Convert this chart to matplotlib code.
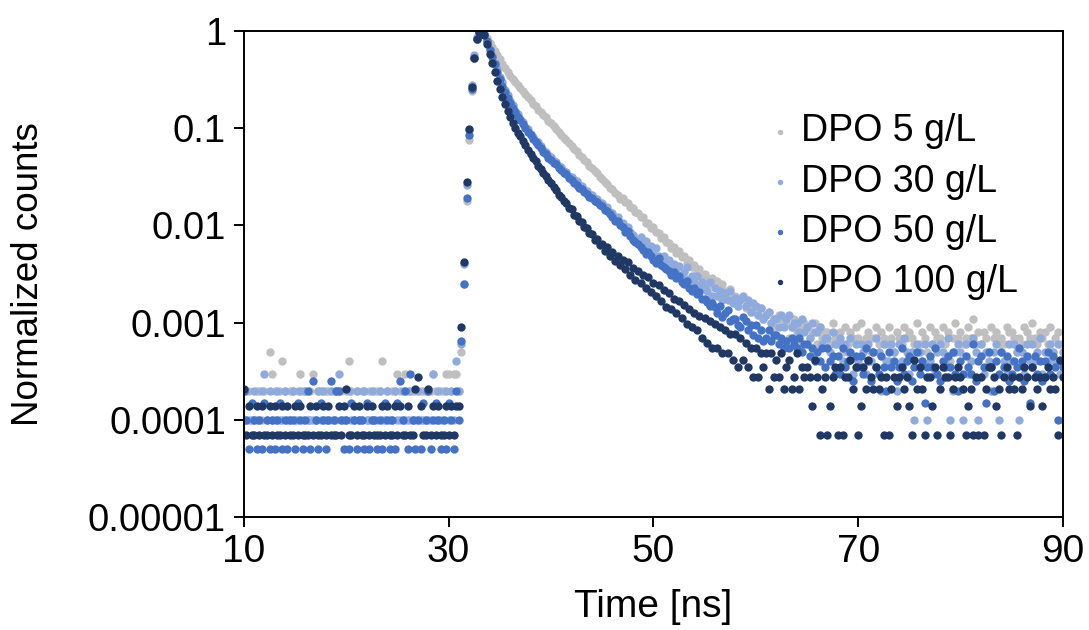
import numpy as np
import matplotlib
matplotlib.use("Agg")
import matplotlib.pyplot as plt
from matplotlib.ticker import FixedLocator, FixedFormatter

plt.rcParams['font.family'] = ['Liberation Sans', 'DejaVu Sans']

# TCSPC channels, 0.25 ns wide, starting at 10 ns
t_start = 10.0
t_step = 0.25

# raw counts per channel (baseline 10-31 ns, rise 31.25-33 ns, decay 33.25-90 ns)
dpo5_counts = [
    2, 1, 2, 1, 1, 2, 2, 1, 2, 1, 5, 3, 2, 1, 2, 4, 2, 1, 2, 2, 1, 2, 3, 2,
    2, 1, 2, 3, 1, 2, 2, 1, 2, 2, 1, 2, 1, 2, 2, 1, 2, 4, 2, 1, 2, 1, 2, 2,
    1, 2, 1, 2, 2, 2, 4, 1, 2, 1, 2, 2, 3, 2, 1, 3, 2, 1, 2, 2, 1, 2, 2, 1,
    2, 2, 3, 2, 1, 2, 2, 3, 3, 2, 3, 3, 2,
    5, 25, 180, 750, 2400, 5200, 8200, 9600,
    10000, 9310, 8420,
    7590, 6880, 6230, 5590, 5120, 4580, 4160, 3790, 3460, 3190, 2990, 2760,
    2590, 2390, 2240, 2070, 1950, 1790, 1690, 1550, 1470, 1360, 1290, 1190,
    1130, 1040, 985, 910, 860, 795, 756, 697, 660, 610, 580, 535,
    509, 468, 447, 410, 392, 360, 345, 316, 303, 278, 266, 243,
    234, 213, 206, 186, 190, 174, 168, 153, 152, 138, 135, 122,
    121, 107, 106, 95, 96, 85, 84, 75, 76, 67, 66, 59,
    60, 52, 54, 47, 48, 41, 44, 37, 39, 33, 36, 29,
    32, 28, 25, 29, 24, 27, 20, 25, 21, 18, 22, 17,
    19, 15, 18, 18, 14, 16, 13, 15, 13, 12, 14, 11,
    12, 13, 10, 11, 9, 12, 11, 10, 10, 7, 9, 11,
    8, 9, 6, 10, 9, 7, 8, 10, 6, 9, 7, 8,
    8, 6, 10, 7, 7, 8, 5, 9, 6, 8, 7, 9,
    7, 10, 6, 7, 8, 5, 7, 9, 6, 8, 7, 6,
    9, 7, 5, 8, 7, 6, 9, 7, 8, 7, 6, 10,
    6, 8, 7, 5, 9, 6, 8, 7, 7, 9, 6, 8,
    4, 7, 10, 7, 8, 6, 7, 9, 7, 11, 6, 8,
    6, 8, 7, 5, 9, 7, 8, 6, 7, 6, 9, 8,
    8, 7, 5, 7, 6, 9, 8, 7, 10, 7, 6, 8,
    7, 8, 6, 9, 5, 7, 8, 6, 1,
]

dpo30_counts = [
    1, 2, 1, 1, 2, 1, 1, 2, 3, 1, 2, 1, 1, 2, 1, 1, 2, 1, 1, 2, 1, 1, 2, 1,
    2, 1, 1, 1, 1, 2, 1, 2, 1, 1, 2, 1, 2, 3, 1, 1, 1, 2, 1, 1, 2, 1, 1, 2,
    1, 1, 2, 1, 1, 2, 1, 1, 2, 1, 1, 2, 1, 1, 2, 1, 1, 2, 1, 1, 2, 1, 1, 2,
    1, 1, 3, 1, 2, 1, 1, 2, 1, 2, 1, 4, 2,
    6, 40, 260, 950, 2800, 5700, 8600, 9800,
    10000, 9280, 7930,
    6580, 5690, 4660, 4010, 3380, 2950, 2480, 2200, 1880, 1720, 1500, 1410,
    1230, 1160, 1020, 970, 870, 820, 740, 712, 648, 602, 575, 530,
    505, 462, 446, 409, 394, 364, 355, 322, 316, 290, 284, 258,
    255, 233, 228, 208, 207, 186, 187, 170, 170, 151, 155, 138,
    133, 120, 121, 107, 105, 93, 96, 85, 79, 73, 70, 76,
    65, 69, 57, 61, 53, 58, 49, 46, 48, 42, 44, 37,
    40, 36, 38, 31, 33, 37, 28, 30, 26, 30, 24, 26,
    23, 21, 26, 19, 23, 19, 21, 17, 20, 17, 21, 16,
    18, 15, 17, 19, 15, 17, 13, 16, 15, 12, 14, 11,
    12, 13, 10, 11, 11, 9, 12, 9, 11, 12, 9, 10,
    10, 8, 11, 8, 9, 7, 10, 8, 8, 9, 6, 7,
    7, 5, 8, 6, 6, 7, 4, 6, 5, 7, 3, 6,
    4, 6, 5, 3, 6, 4, 5, 7, 5, 2, 6, 4,
    4, 6, 5, 2, 6, 4, 7, 5, 3, 5, 1, 6,
    5, 4, 6, 1, 4, 6, 3, 5, 6, 5, 4, 7,
    1, 2, 5, 6, 5, 1, 6, 3, 4, 7, 5, 1,
    6, 3, 5, 4, 2, 5, 6, 1, 5, 4, 3, 6,
    4, 6, 5, 1, 5, 3, 6, 4, 6, 4, 5, 7,
    3, 5, 4, 6, 5, 4, 6, 3, 5,
]

dpo50_counts = [
    4, 2, 1, 3, 2, 1, 2, 1, 3, 2, 1, 2, 1, 2, 3, 1, 2, 1, 2, 2, 1, 3, 2, 1,
    2, 4, 1, 5, 2, 1, 3, 2, 1, 2, 5, 2, 4, 4, 2, 1, 2, 1, 3, 2, 1, 2, 2, 1,
    3, 1, 2, 2, 1, 2, 1, 3, 2, 1, 2, 1, 3, 5, 2, 4, 1, 6, 2, 1, 2, 1, 3, 2,
    4, 1, 2, 3, 2, 1, 2, 1, 3, 2, 1, 4, 2,
    13, 50, 380, 1700, 5000, 10600, 16600, 19400,
    20000, 18420, 15560,
    12840, 10760, 9030, 7580, 6420, 5480, 4720, 4090, 3610, 3210, 2910, 2630,
    2410, 2190, 2010, 1830, 1710, 1550, 1450, 1330, 1250, 1150, 1090, 995,
    945, 880, 848, 782, 748, 692, 668, 612, 587, 540, 526, 488,
    476, 438, 425, 395, 385, 356, 349, 322, 315, 290, 284, 262,
    245, 224, 222, 201, 192, 173, 174, 156, 143, 134, 128, 121,
    111, 102, 106, 97, 89, 83, 93, 79, 75, 71, 68, 62,
    66, 58, 61, 53, 50, 54, 46, 42, 46, 39, 41, 35,
    35, 33, 30, 32, 29, 25, 30, 23, 25, 27, 21, 22,
    22, 19, 18, 23, 21, 17, 19, 15, 19, 14, 17, 13,
    14, 17, 13, 15, 15, 12, 14, 11, 13, 11, 14, 12,
    11, 14, 10, 12, 12, 9, 11, 8, 10, 8, 11, 7,
    11, 8, 9, 6, 9, 6, 11, 7, 8, 10, 5, 9,
    7, 9, 6, 11, 8, 5, 10, 7, 6, 9, 7, 4,
    10, 7, 8, 5, 7, 11, 6, 8, 9, 5, 7, 10,
    6, 8, 3, 7, 9, 7, 11, 6, 5, 8, 7, 9,
    7, 10, 6, 4, 8, 6, 9, 7, 6, 12, 5, 8,
    9, 7, 3, 10, 7, 4, 8, 6, 10, 7, 9, 5,
    6, 8, 7, 11, 8, 5, 9, 3, 7, 9, 6, 8,
    5, 8, 10, 6, 9, 7, 2, 8, 7,
]

dpo100_counts = [
    3, 1, 2, 1, 1, 2, 1, 2, 1, 1, 2, 1, 2, 1, 1, 2, 1, 2, 1, 1, 2, 1, 2, 1,
    1, 1, 2, 1, 2, 1, 1, 2, 1, 2, 1, 1, 1, 2, 1, 2, 3, 1, 1, 2, 1, 2, 1, 1,
    2, 1, 2, 1, 1, 1, 2, 1, 2, 1, 1, 2, 1, 2, 1, 1, 2, 1, 1, 3, 4, 2, 1, 1,
    3, 1, 2, 1, 2, 1, 1, 2, 1, 2, 1, 2, 2,
    13, 60, 400, 1400, 3800, 7600, 11800, 14000,
    14400, 12980, 10640,
    8370, 6750, 5490, 4440, 3610, 3010, 2530, 2150, 1880, 1630, 1450, 1290,
    1190, 1060, 960, 858, 785, 708, 655, 592, 552, 500, 466, 421,
    393, 356, 335, 298, 285, 255, 244, 219, 210, 186, 181, 160,
    157, 138, 136, 119, 118, 103, 105, 90, 93, 79, 86, 70,
    76, 62, 70, 56, 63, 51, 60, 45, 53, 40, 49, 37,
    45, 33, 42, 30, 37, 27, 35, 24, 31, 21, 29, 20,
    25, 18, 24, 16, 22, 14, 20, 13, 18, 12, 17, 10,
    16, 9, 15, 8, 14, 8, 13, 7, 12, 7, 11, 6,
    11, 5, 10, 6, 9, 5, 8, 4, 8, 4, 7, 5,
    7, 3, 7, 4, 6, 4, 7, 3, 5, 6, 3, 4,
    7, 3, 5, 4, 5, 4, 2, 6, 4, 1, 3, 4,
    1, 2, 4, 5, 1, 5, 1, 4, 4, 6, 3, 5,
    1, 2, 5, 3, 6, 4, 3, 5, 3, 4, 1, 4,
    1, 3, 4, 2, 4, 5, 3, 4, 2, 1, 6, 3,
    5, 3, 1, 4, 4, 2, 5, 1, 3, 5, 4, 4,
    1, 3, 4, 5, 4, 3, 1, 2, 3, 1, 4, 1,
    4, 1, 3, 5, 5, 4, 2, 3, 1, 4, 5, 3,
    4, 3, 1, 4, 3, 5, 4, 2, 5, 4, 3, 4,
    2, 4, 5, 3, 4, 3, 1, 6, 4,
]

labels = ['DPO 5 g/L', 'DPO 30 g/L', 'DPO 50 g/L', 'DPO 100 g/L']
colors = ['#bfbfbf', '#8faadc', '#4472c4', '#203864']
y_ticks = [1e-5, 1e-4, 1e-3, 1e-2, 1e-1, 1]
y_ticklabels = ['0.00001', '0.0001', '0.001', '0.01', '0.1', '1']
x_ticks = [10, 30, 50, 70, 90]

narrow = ['Liberation Sans Narrow', 'Liberation Sans']

fig = plt.figure(figsize=(10.89, 6.3), dpi=100)
ax = fig.add_axes([0.224, 0.179, 0.752, 0.772])

for counts, lab, col in zip([dpo5_counts, dpo30_counts, dpo50_counts, dpo100_counts], labels, colors):
    c = np.array(counts, dtype=float)
    t = t_start + t_step * np.arange(len(c))
    ax.scatter(t, c / c.max(), s=36, color=col, linewidths=0, label=lab, zorder=2)

ax.set_yscale('log')
ax.set_ylim(1e-5, 1)
ax.set_xlim(10, 90)
ax.yaxis.set_major_locator(FixedLocator(y_ticks))
ax.yaxis.set_major_formatter(FixedFormatter(y_ticklabels))
ax.yaxis.set_minor_locator(FixedLocator([]))
ax.set_xticks(x_ticks)

for sp in ax.spines.values():
    sp.set_linewidth(1.4)
ax.tick_params(axis='both', direction='out', length=7, width=1.4)
ax.tick_params(axis='y', labelsize=27.5, pad=6)
ax.tick_params(axis='x', labelsize=28, pad=5)
for lbl in ax.get_xticklabels():
    lbl.set_family(narrow)

ax.set_xlabel('Time [ns]', fontsize=28, family=narrow, labelpad=14)
ax.set_ylabel('Normalized counts', fontsize=26.5)
ax.yaxis.set_label_coords(-0.242, 0.5)

ax.legend(loc='upper left', bbox_to_anchor=(0.708, 0.82), bbox_transform=fig.transFigure,
          frameon=False, fontsize=27, markerscale=0.65, handlelength=0.5,
          handletextpad=0.3, labelspacing=0.38, borderpad=0, borderaxespad=0)

fig.savefig('out.png', dpi=100)
